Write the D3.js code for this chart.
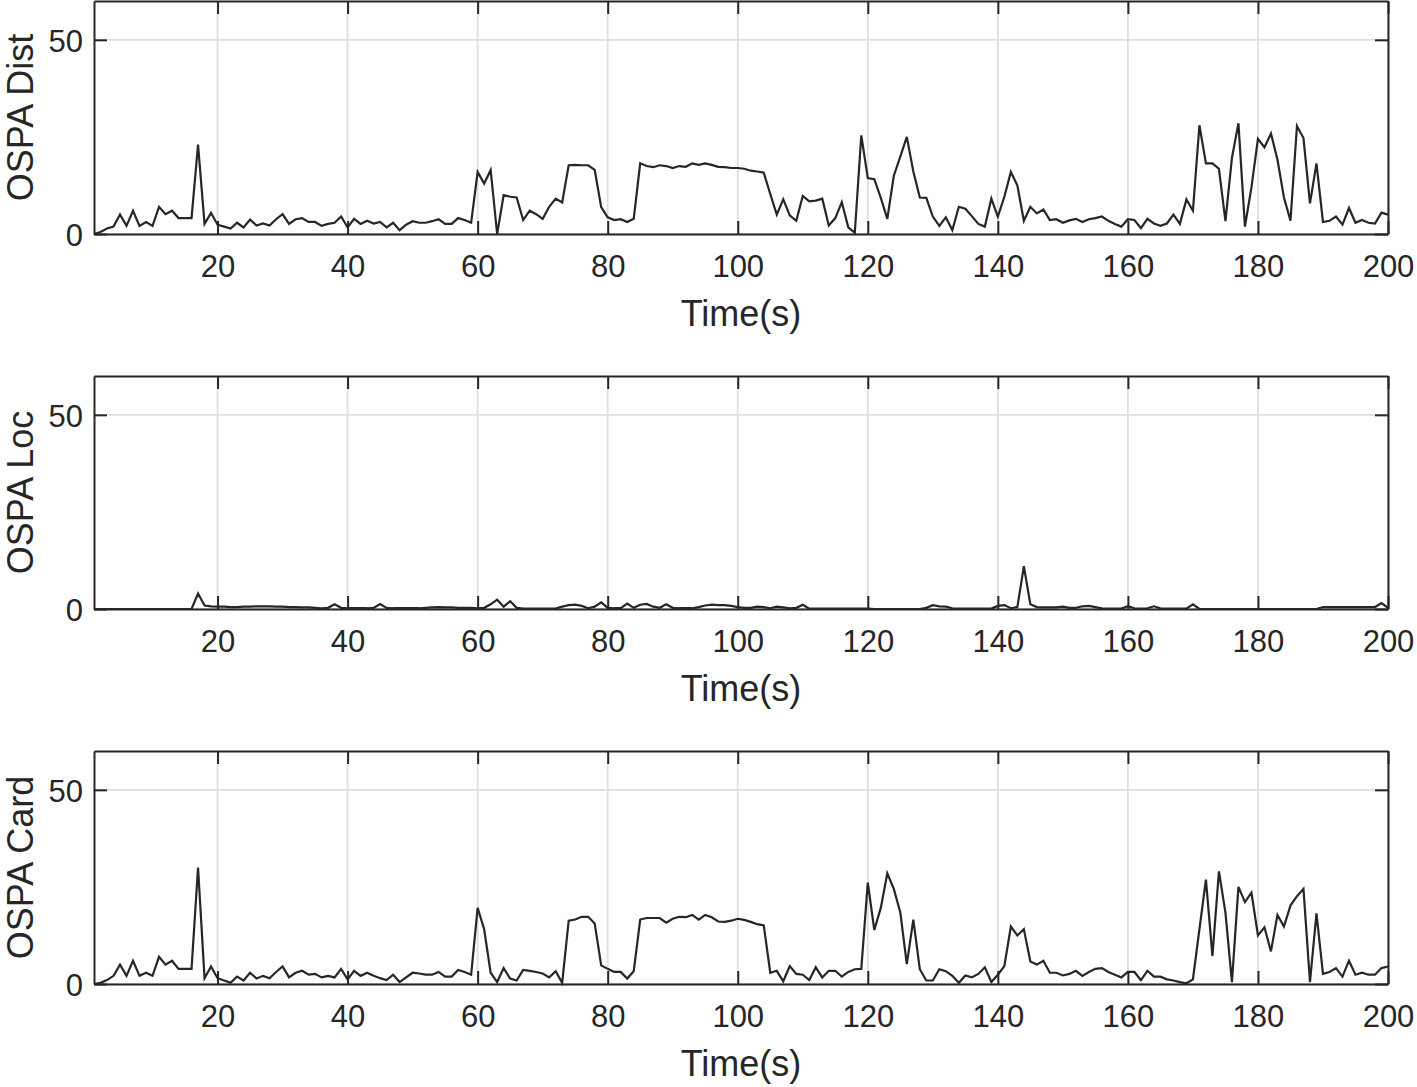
<!DOCTYPE html>
<html>
<head>
<meta charset="utf-8">
<script src="https://cdn.jsdelivr.net/npm/d3@7"></script>
<style>
  html, body { margin: 0; padding: 0; background: #fff; }
  svg { display: block; }
  text { font-family: "Liberation Sans", Arial, Helvetica, sans-serif; fill: #262626; }
</style>
</head>
<body>
<svg id="chart" width="1417" height="1087"></svg>
<script>
// ---------------- data ----------------
const timeStart = 1, timeEnd = 200;
const xTicks = [20, 40, 60, 80, 100, 120, 140, 160, 180, 200];
const yTicks = [0, 50];
const yMax = 60;
const xLabel = "Time(s)";
const panelLabels = ["OSPA Dist", "OSPA Loc", "OSPA Card"];

const ospaDist = [
  0,0.5,1.4,1.9,5.0,2.1,6.0,2.1,3.1,2.1,
  7.0,5.1,6.0,4.1,4.1,4.1,23.0,2.6,5.4,2.4,
  1.9,1.4,2.9,1.7,3.7,2.2,2.7,2.2,3.8,5.1,
  2.6,3.8,4.1,3.1,3.1,2.1,2.6,2.9,4.5,1.7,
  3.9,2.6,3.4,2.7,3.1,1.7,2.9,1.0,2.4,3.3,
  2.9,2.9,3.3,3.8,2.6,2.6,4.1,3.6,2.9,16.0,
  13.0,16.5,0,10.0,9.6,9.4,3.6,6.0,5.1,3.9,
  7.0,9.1,8.1,17.7,17.8,17.7,17.7,16.5,6.9,4.3,
  3.6,3.8,3.1,3.9,18.2,17.5,17.2,17.7,17.5,17.0,
  17.5,17.3,18.2,17.8,18.2,17.8,17.3,17.2,17.0,17.0,
  16.8,16.3,16.1,15.8,10.3,5.0,8.9,4.8,3.4,9.8,
  8.4,8.6,9.1,2.2,4.1,8.2,1.7,0.3,25.4,14.4,
  14.1,9.3,3.9,15.0,19.9,25.0,16.1,9.4,9.3,4.5,
  2.1,4.3,1.0,7.0,6.5,4.6,2.6,1.9,9.1,4.5,
  9.6,16.0,12.5,3.4,7.0,5.3,6.3,3.6,3.8,2.9,
  3.5,3.9,3.1,3.8,4.1,4.5,3.4,2.6,1.9,3.8,
  3.6,1.5,3.9,2.7,2.1,2.7,5.0,2.6,8.9,6.0,
  28.0,18.2,18.2,16.8,3.3,19.6,28.5,1.9,12.0,24.5,
  22.3,25.9,19.2,9.4,3.4,27.8,24.7,7.9,18.2,3.1,
  3.4,4.5,2.4,6.7,2.9,3.6,2.9,2.7,5.5,5.0
];

const ospaLoc = [
  0,0,0,0,0,0,0,0,0,0,
  0,0,0,0,0,0,4.0,0.9,0.7,0.6,
  0.6,0.5,0.5,0.6,0.6,0.7,0.7,0.7,0.6,0.6,
  0.5,0.5,0.4,0.4,0.3,0.2,0.3,1.2,0.3,0.2,
  0.2,0.2,0.2,0.3,1.3,0.3,0.2,0.2,0.2,0.2,
  0.2,0.3,0.4,0.5,0.4,0.4,0.3,0.3,0.3,0.2,
  0.3,1.2,2.4,0.6,2.0,0.3,0.1,0.1,0.1,0.1,
  0.1,0.1,0.6,1.0,1.1,0.8,0.2,0.6,1.7,0.3,
  0.2,0.2,1.4,0.3,1.1,1.3,0.6,0.3,1.2,0.3,
  0.2,0.2,0.2,0.5,0.9,1.1,1.0,1.0,0.8,0.5,
  0.3,0.3,0.6,0.5,0.2,0.6,0.4,0.2,0.3,1.1,
  0.1,0.1,0.1,0.1,0.1,0.1,0.1,0.1,0.1,0.1,
  0,0,0,0,0,0,0,0,0.3,1.0,
  0.7,0.6,0.2,0.1,0.1,0.1,0.1,0.1,0.1,0.8,
  1.0,0.2,0.5,11.0,1.2,0.5,0.4,0.4,0.4,0.6,
  0.3,0.3,0.7,0.8,0.5,0.2,0.1,0.1,0.1,0.7,
  0.2,0.1,0.2,0.7,0.2,0.1,0.1,0.1,0.1,1.2,
  0,0,0,0,0,0,0,0,0,0,
  0,0,0,0,0,0,0,0,0,0.5,
  0.5,0.5,0.5,0.5,0.5,0.5,0.5,0.5,1.5,0.3
];

const ospaCard = [
  0,0.3,1.0,2.1,5.0,2.1,6.0,2.1,2.9,2.1,
  7.0,5.0,6.0,3.9,3.9,3.9,30.0,1.5,4.5,1.5,
  0.9,0.3,1.9,0.9,2.9,1.4,2.1,1.5,3.1,4.5,
  1.7,2.9,3.4,2.4,2.6,1.7,2.1,1.7,3.9,1.2,
  3.4,2.1,2.9,2.1,1.5,1.0,2.4,0.5,1.7,2.9,
  2.7,2.4,2.4,3.1,1.9,1.9,3.6,3.1,2.4,19.6,
  14.1,2.9,0.5,4.1,1.4,0.9,3.6,3.4,3.1,2.7,
  1.7,3.3,0.3,16.3,16.6,17.3,17.3,15.6,4.8,3.9,
  3.1,3.1,1.4,3.3,16.6,17.0,17.0,17.0,15.8,16.8,
  17.3,17.2,17.8,16.6,17.8,17.2,16.1,16.0,16.3,16.8,
  16.5,16.0,15.4,15.1,2.9,3.4,0.7,4.6,2.6,2.4,
  1.0,4.3,1.7,3.4,3.4,1.9,3.1,3.8,3.9,26.1,
  13.9,19.6,28.5,24.5,18.4,5.1,16.6,3.8,0.9,0.9,
  3.8,3.3,2.1,0.3,2.2,1.7,2.6,4.3,0.5,2.4,
  4.6,14.8,12.5,14.1,5.8,5.0,6.0,2.9,2.9,2.2,
  2.6,3.4,2.1,3.1,3.9,4.1,3.1,2.4,1.7,3.1,
  3.1,1.0,3.4,1.9,1.9,1.2,0.9,0.5,0.2,1.2,
  14.1,26.9,7.2,29.0,18.4,0.5,25.0,21.1,23.5,12.5,
  14.6,8.4,17.8,14.8,20.2,22.6,24.5,0.5,18.2,2.6,
  3.1,4.1,1.9,6.0,2.4,2.9,2.4,2.4,4.1,4.5
];

const seriesList = [ospaDist, ospaLoc, ospaCard];

// ---------------- layout ----------------
const svg = d3.select("#chart");
const left = 94, right = 1388;
const panelTops = [1, 376, 751];
const panelH = 233;
const ink = "#262626";
const gridColor = "#dfdfdf";
const tickLen = 13;
const fontFam = '"Liberation Sans", Arial, Helvetica, sans-serif';

const x = d3.scaleLinear().domain([timeStart, timeEnd]).range([left, right]);

panelTops.forEach((top, p) => {
  const bottom = top + panelH;
  const y = d3.scaleLinear().domain([0, yMax]).range([bottom, top]);
  const g = svg.append("g");

  // gridlines
  g.append("g").selectAll("line").data(xTicks).join("line")
    .attr("x1", d => x(d)).attr("x2", d => x(d))
    .attr("y1", top).attr("y2", bottom)
    .attr("stroke", gridColor).attr("stroke-width", 1.8);
  g.append("g").selectAll("line").data(yTicks).join("line")
    .attr("x1", left).attr("x2", right)
    .attr("y1", d => y(d)).attr("y2", d => y(d))
    .attr("stroke", gridColor).attr("stroke-width", 1.8);

  // data line
  const data = seriesList[p];
  const line = d3.line().x((d, i) => x(timeStart + i)).y(d => y(d));
  g.append("path").datum(data)
    .attr("d", line)
    .attr("fill", "none")
    .attr("stroke", ink)
    .attr("stroke-width", 2.2)
    .attr("stroke-linejoin", "miter");

  // axes (inward ticks)
  const xAxisB = d3.axisBottom(x).tickValues(xTicks).tickSizeInner(-tickLen).tickSizeOuter(0).tickPadding(21);
  const xAxisT = d3.axisTop(x).tickValues(xTicks).tickSizeInner(-tickLen).tickSizeOuter(0).tickFormat("");
  const yAxisL = d3.axisLeft(y).tickValues(yTicks).tickSizeInner(-tickLen).tickSizeOuter(0).tickPadding(11);
  const yAxisR = d3.axisRight(y).tickValues(yTicks).tickSizeInner(-tickLen).tickSizeOuter(0).tickFormat("");

  const styleAxis = sel => {
    sel.selectAll("path.domain").attr("stroke", ink).attr("stroke-width", 2);
    sel.selectAll(".tick line").attr("stroke", ink).attr("stroke-width", 2);
    sel.selectAll(".tick text").attr("fill", ink).style("font-size", "31px").style("font-family", fontFam);
  };

  g.append("g").attr("transform", `translate(0,${bottom})`).call(xAxisB).call(styleAxis);
  g.append("g").attr("transform", `translate(0,${top})`).call(xAxisT).call(styleAxis);
  g.append("g").attr("transform", `translate(${left},0)`).call(yAxisL).call(styleAxis)
    .selectAll(".tick text").attr("dy", "0.36em");
  g.append("g").attr("transform", `translate(${right},0)`).call(yAxisR).call(styleAxis);

  // axis labels
  g.append("text")
    .attr("x", (left + right) / 2)
    .attr("y", bottom + 92)
    .attr("text-anchor", "middle")
    .style("font-size", "36px")
    .text(xLabel);
  g.append("text")
    .attr("transform", `translate(33,${(top + bottom) / 2}) rotate(-90)`)
    .attr("text-anchor", "middle")
    .style("font-size", "36px")
    .text(panelLabels[p]);
});
</script>
</body>
</html>
